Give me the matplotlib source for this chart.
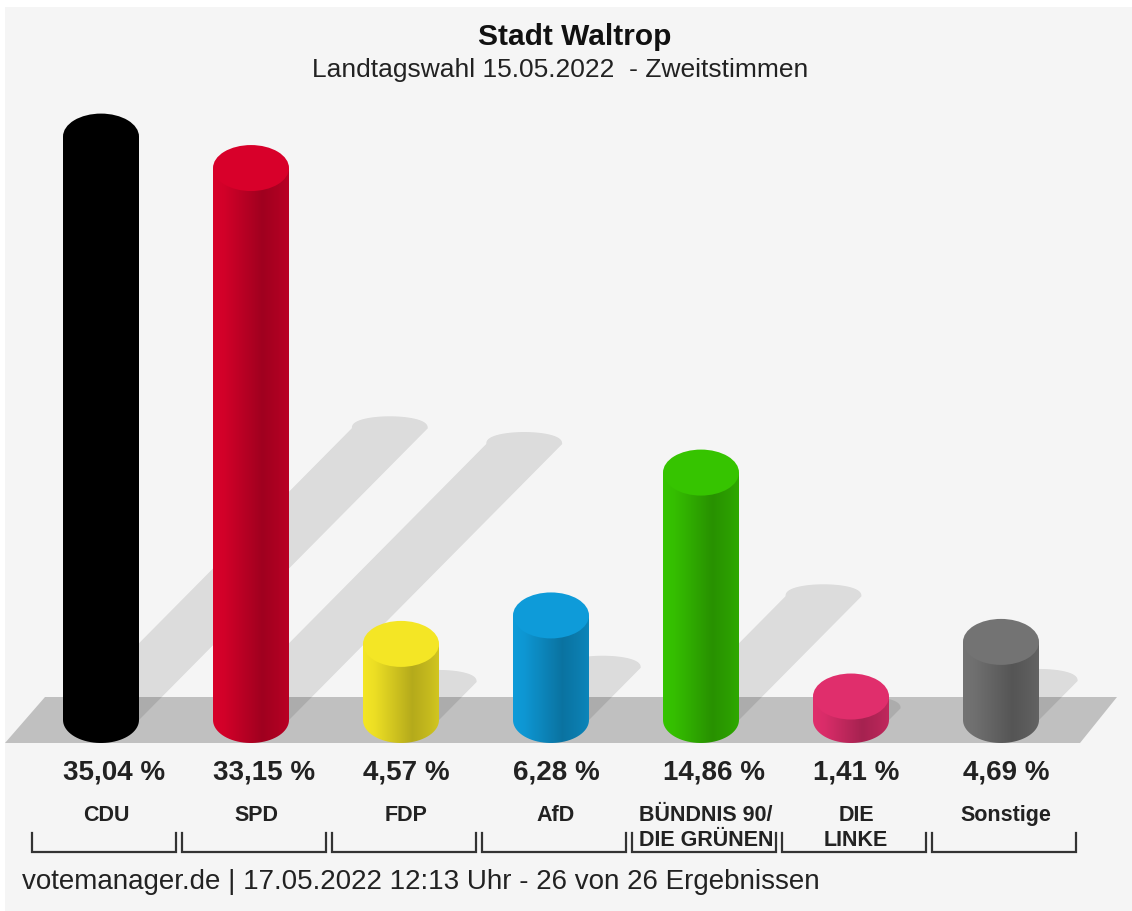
import numpy as np
import matplotlib
matplotlib.use("Agg")
import matplotlib.pyplot as plt
from matplotlib.patches import Rectangle, Ellipse, PathPatch, Polygon
from matplotlib.path import Path
from matplotlib.colors import to_rgb

# data
parties = ["CDU", "SPD", "FDP", "AfD", "BÜNDNIS 90/\nDIE GRÜNEN", "DIE\nLINKE", "Sonstige"]
values = [35.04, 33.15, 4.57, 6.28, 14.86, 1.41, 4.69]
value_labels = ["35,04 %", "33,15 %", "4,57 %", "6,28 %", "14,86 %", "1,41 %", "4,69 %"]
colors = ["#000000", "#d8002a", "#f4e625", "#0e9bd9", "#36c400", "#e02e6c", "#737373"]

title = "Stadt Waltrop"
subtitle = "Landtagswahl 15.05.2022  - Zweitstimmen"
footer = "votemanager.de | 17.05.2022 12:13 Uhr - 26 von 26 Ergebnissen"

plt.rcParams['font.family'] = ['Liberation Sans', 'DejaVu Sans']

W, H = 1132, 911
fig = plt.figure(figsize=(W / 100, H / 100), dpi=100, facecolor="white")

# pixel layout: bar i centred at 101 + 150*i, base at y=720 px, 16.65 px per percent
X0, XSTEP = 101.0, 150.0
Y0, YSCALE = 720.0, 16.65


def dx(px):
    return (px - X0) / XSTEP


def dy(py):
    return (Y0 - py) / YSCALE


# light panel
fig.patches.append(Rectangle((5 / W, 0), 1, 1 - 7 / H, transform=fig.transFigure,
                             facecolor="#f5f5f5", edgecolor="none", zorder=-5))

ax = fig.add_axes([0, 0, 1, 1])
ax.set_facecolor("none")
ax.axis("off")

bw = 76 / XSTEP        # bar width in data units
eh = 46 / YSCALE       # ellipse height in data units

# floor
floor = Polygon([(dx(5), dy(743)), (dx(45), dy(697)), (dx(1117), dy(697)), (dx(1080), dy(743))],
                closed=True, facecolor="#c0c0c0", edgecolor="none", zorder=1)
ax.add_patch(floor)

# shadows, going up and to the right, with a flat rounded end
for i, v in enumerate(values):
    sx = 0.495 * v * YSCALE / XSTEP
    sy = 0.50 * v
    t = np.linspace(np.pi, 0, 30)
    cap_x = i + sx + bw / 2 * np.cos(t)
    cap_y = sy + (12 / YSCALE) * np.sin(t) ** 0.8
    verts = [(i - bw / 2, 0)] + list(zip(cap_x, cap_y)) + [(i + bw / 2, 0)]
    ax.add_patch(Polygon(verts, closed=True, facecolor="black", alpha=0.10,
                         edgecolor="none", zorder=2))

# cylinders
grad_t = np.linspace(0, 1, 200)
shade = np.interp(grad_t, [0, 0.15, 0.65, 0.85, 1.0], [1.0, 0.97, 0.74, 0.80, 0.86])
for i, (v, c) in enumerate(zip(values, colors)):
    base = np.array(to_rgb(c))
    img = np.clip(shade[None, :, None] * base[None, None, :], 0, 1)
    t = np.linspace(np.pi, 2 * np.pi, 40)
    bx = i + bw / 2 * np.cos(t)
    by = eh / 2 * np.sin(t)
    verts = list(zip(bx, by)) + [(i + bw / 2, v), (i - bw / 2, v), (bx[0], by[0])]
    codes = [Path.MOVETO] + [Path.LINETO] * (len(verts) - 2) + [Path.CLOSEPOLY]
    body = PathPatch(Path(verts, codes), facecolor="none", edgecolor="none",
                     transform=ax.transData, zorder=3)
    ax.add_patch(body)
    im = ax.imshow(img, extent=[i - bw / 2, i + bw / 2, -eh / 2, v], aspect="auto",
                   origin="lower", zorder=3, interpolation="bilinear")
    im.set_clip_path(body)
    ax.add_patch(Ellipse((i, v), bw, eh, facecolor=base, edgecolor="none", zorder=4))

    # labels
    ax.text(i - 38 / XSTEP, dy(773), value_labels[i], ha="left", va="center",
            fontsize=20, fontweight="bold", color="#222222")
    ax.text(i + 5 / XSTEP, dy(805), parties[i], ha="center", va="top",
            fontsize=15.5, fontweight="bold", color="#222222", linespacing=1.25)

    # bracket under each party
    xl, xr = i - 69 / XSTEP, i + 75 / XSTEP
    ax.plot([xl, xl, xr, xr], [dy(833), dy(852), dy(852), dy(833)],
            color="#333333", lw=1.6, solid_joinstyle="miter", zorder=5)

ax.set_xlim(dx(0), dx(W))
ax.set_ylim(dy(H), dy(0))

fig.text(575 / W, 1 - 37 / H, title, ha="center", va="center", fontsize=21.5,
         fontweight="bold", color="#111111")
fig.text(560 / W, 1 - 70 / H, subtitle, ha="center", va="center", fontsize=19,
         color="#222222")
fig.text(22 / W, 1 - 882 / H, footer, ha="left", va="center", fontsize=20,
         color="#222222")

fig.savefig("out.png", dpi=100, facecolor="white")
